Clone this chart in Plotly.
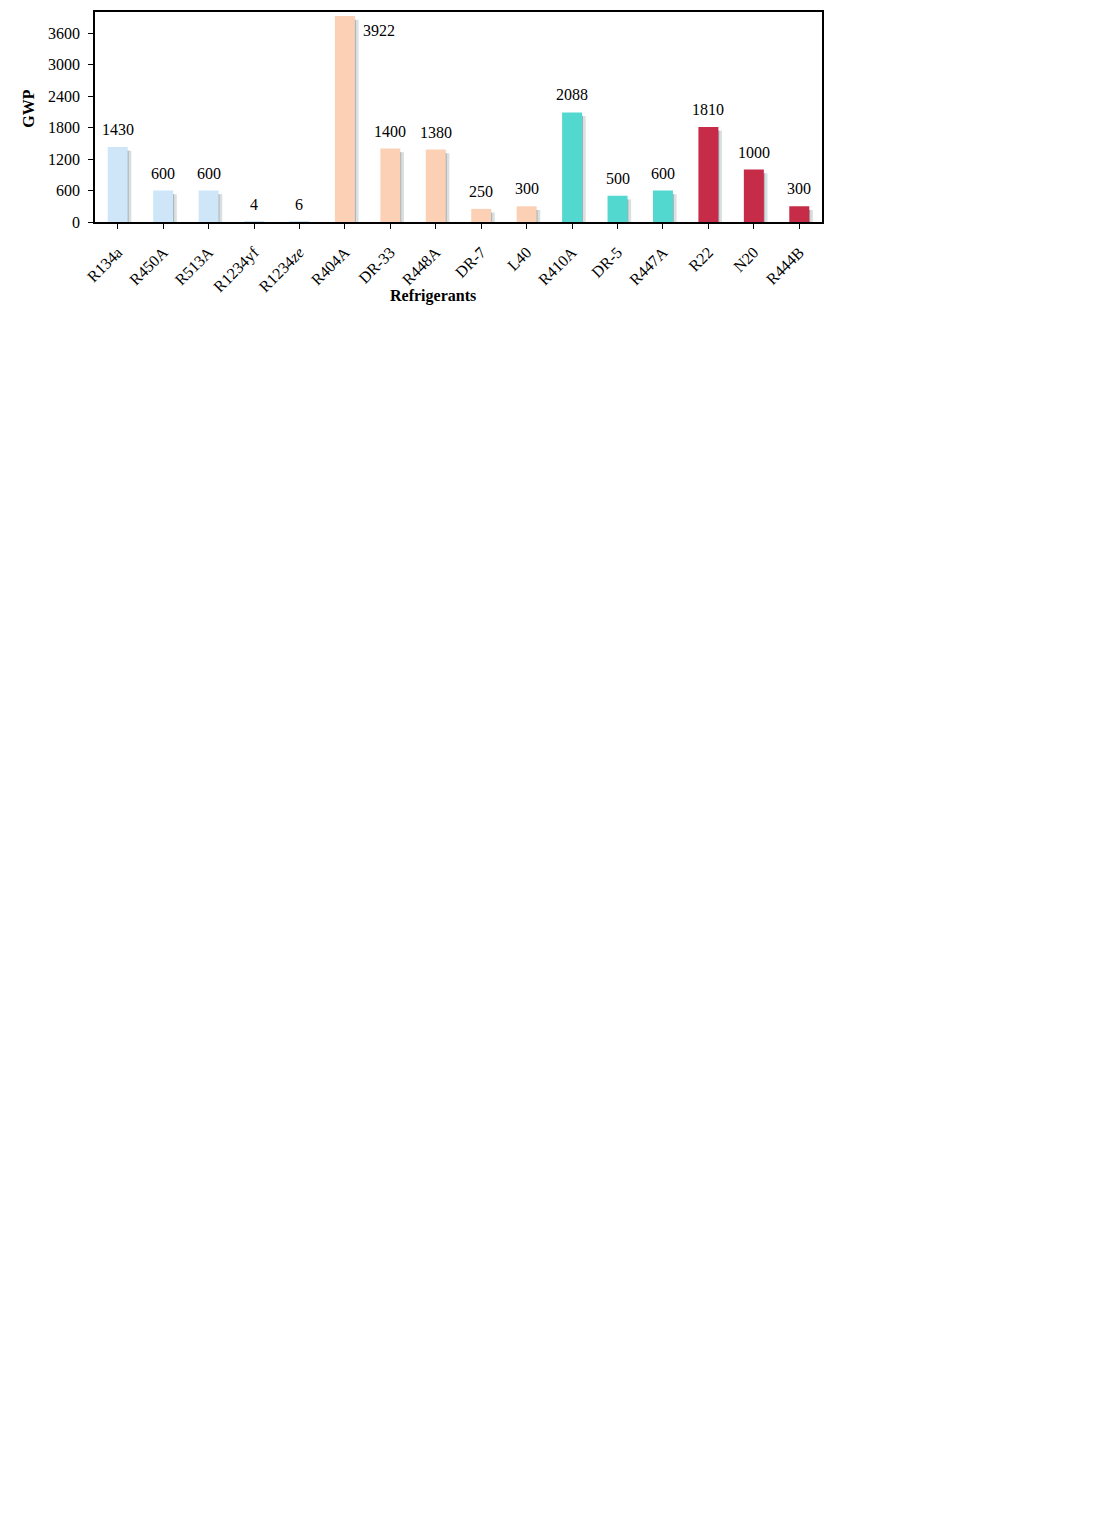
import plotly.graph_objects as go

refrigerants = ["R134a", "R450A", "R513A", "R1234yf", "R1234<i>ze</i>", "R404A", "DR-33",
                "R448A", "DR-7", "L40", "R410A", "DR-5", "R447A", "R22", "N20", "R444B"]
gwp = [1430, 600, 600, 4, 6, 3922, 1400, 1380, 250, 300, 2088, 500, 600, 1810, 1000, 300]
groups = ["a", "a", "a", "a", "a", "b", "b", "b", "b", "b", "c", "c", "c", "d", "d", "d"]

group_colors = {"a": "#cfe6f8", "b": "#fcd0b4", "c": "#52d8cf", "d": "#c62b48"}
bar_colors = [group_colors[g] for g in groups]

FONT = "Liberation Serif, Times New Roman, serif"

fig = go.Figure()

# soft shadow to the right of each bar
fig.add_trace(go.Bar(x=refrigerants, y=gwp, base=-70, width=0.14, offset=0.16,
                     marker=dict(color="rgba(150,165,170,0.35)", line_width=0),
                     hoverinfo="skip", showlegend=False))
fig.add_trace(go.Bar(x=refrigerants, y=gwp, base=-70, width=0.08, offset=0.16,
                     marker=dict(color="rgba(90,115,125,0.45)", line_width=0),
                     hoverinfo="skip", showlegend=False))
fig.add_trace(go.Bar(x=refrigerants, y=gwp, width=0.44, offset=-0.22,
                     marker=dict(color=bar_colors, line_width=0),
                     showlegend=False))

# value labels
for name, val in zip(refrigerants, gwp):
    if val == max(gwp):
        fig.add_annotation(x=name, y=val, text=str(val), showarrow=False,
                           xanchor="left", yanchor="top", xshift=16, yshift=-4,
                           font=dict(family=FONT, size=16, color="black"))
    else:
        fig.add_annotation(x=name, y=val, text=str(val), showarrow=False,
                           yanchor="bottom", yshift=7,
                           font=dict(family=FONT, size=16, color="black"))

fig.add_annotation(text="<b>GWP</b>", xref="paper", yref="paper", x=-0.092, y=0.54,
                   xanchor="center", yanchor="middle",
                   textangle=-90, showarrow=False,
                   font=dict(family=FONT, size=16, color="black"))
fig.add_annotation(text="<b>Refrigerants</b>", xref="paper", yref="paper", x=0.465, y=-0.354,
                   xanchor="center", yanchor="middle",
                   showarrow=False, font=dict(family=FONT, size=16, color="black"))

# page body keeps an 8px margin, so the figure is shrunk by that much
fig.update_layout(
    width=1098, height=1503,
    margin=dict(l=87, r=284, t=2, b=1289),
    paper_bgcolor="white", plot_bgcolor="white",
    barmode="overlay",
    font=dict(family=FONT, size=16, color="black"),
    xaxis=dict(range=[-0.5, 15.5], tickangle=-45, ticks="outside", ticklen=5,
               tickcolor="black", showline=True, linecolor="black", linewidth=1.5,
               mirror=True, showgrid=False, tickfont=dict(size=16),
               ticklabelstandoff=8),
    yaxis=dict(range=[0, 4000], tickvals=[0, 600, 1200, 1800, 2400, 3000, 3600],
               ticks="outside", ticklen=5, tickcolor="black", showline=True,
               linecolor="black", linewidth=1.5, mirror=True, showgrid=False,
               zeroline=False, tickfont=dict(size=16), ticklabelstandoff=5),
)

fig.write_html("out.html")
